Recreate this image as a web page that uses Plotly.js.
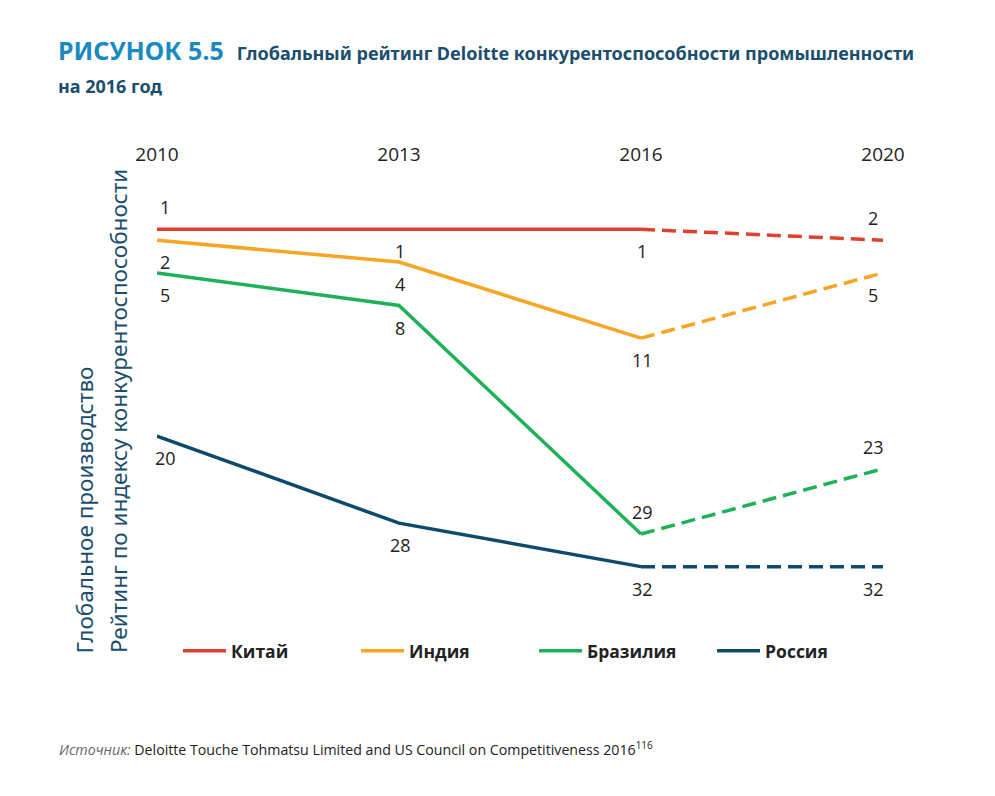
<!DOCTYPE html>
<html>
<head>
<meta charset="utf-8">
<script src="https://cdn.plot.ly/plotly-3.0.1.min.js"></script>
<style>html,body{margin:0;padding:0;background:#fff;}#chart{width:995px;height:796px;}</style>
</head>
<body>
<div id="chart"></div>
<script>
// ---- data ----
const years = ["2010", "2013", "2016", "2020"];
const countries = ["Китай", "Индия", "Бразилия", "Россия"];
const chinaRank = [1, 1, 1, 2];
const indiaRank = [2, 4, 11, 5];
const brazilRank = [5, 8, 29, 23];
const russiaRank = [20, 28, 32, 32];
// label placement: 1 = above the line, -1 = below
const chinaLabelSide = [1, -1, -1, 1];
const indiaLabelSide = [-1, -1, -1, -1];
const brazilLabelSide = [-1, -1, 1, 1];
const russiaLabelSide = [-1, -1, -1, -1];

const colors = ["#e0412d", "#f6a524", "#1db158", "#0d4a6b"];
const series = [chinaRank, indiaRank, brazilRank, russiaRank];
const sides = [chinaLabelSide, indiaLabelSide, brazilLabelSide, russiaLabelSide];

const traces = [];
const annotations = [];

series.forEach((vals, i) => {
  traces.push({
    type: "scatter", mode: "lines", name: countries[i],
    x: years.slice(0, 3), y: vals.slice(0, 3),
    line: {color: colors[i], width: 3.5}, cliponaxis: false,
    legendgroup: countries[i], hoverinfo: "skip"
  });
  traces.push({
    type: "scatter", mode: "lines", name: countries[i] + " (прогноз)",
    x: years.slice(2), y: vals.slice(2),
    line: {color: colors[i], width: 3.5, dash: "14px,7px"}, cliponaxis: false,
    legendgroup: countries[i], showlegend: false, hoverinfo: "skip"
  });
  vals.forEach((v, j) => {
    const xs = j === 0 ? 8 : (j === years.length - 1 ? -10 : 1);
    annotations.push({
      x: j, y: v, xref: "x", yref: "y", text: String(v),
      showarrow: false, xanchor: "center", yanchor: "middle",
      font: {family: "Open Sans, sans-serif", size: 18, color: "#222"},
      xshift: xs, yshift: sides[i][j] * 22
    });
  });
});

const axisTitleColor = "#1b4e6e";
annotations.push({
  xref: "paper", yref: "paper", x: -0.0992, y: -0.2428, xanchor: "center", yanchor: "bottom",
  textangle: -90, showarrow: false, text: "Глобальное производство",
  font: {family: "Noto Sans, sans-serif", size: 22.5, color: axisTitleColor}
});
annotations.push({
  xref: "paper", yref: "paper", x: -0.0537, y: -0.2428, xanchor: "center", yanchor: "bottom",
  textangle: -90, showarrow: false, text: "Рейтинг по индексу конкурентоспособности",
  font: {family: "Noto Sans, sans-serif", size: 22.5, color: axisTitleColor}
});
annotations.push({
  xref: "paper", yref: "paper", x: -0.1377, y: -0.5116, xanchor: "left", yanchor: "middle",
  showarrow: false, align: "left",
  text: "<i><span style=\"color:#666\">Источник:</span></i> Deloitte Touche Tohmatsu Limited and US Council on Competitiveness 2016<sup>116</sup>",
  font: {family: "Open Sans, sans-serif", size: 14.2, color: "#222"}
});

const layout = {
  width: 995, height: 796,
  paper_bgcolor: "#fff", plot_bgcolor: "#fff",
  margin: {l: 157, r: 112, t: 225, b: 225},
  title: {
    text: "<span style=\"color:#1a8abf\"><b>РИСУНОК 5.5</b></span>  <span style=\"font-size:18px\"><b>Глобальный рейтинг Deloitte конкурентоспособности промышленности</b></span><br><span style=\"font-size:18px\"><b>на 2016 год</b></span>",
    font: {family: "Noto Sans, sans-serif", size: 25, color: "#1b4e6e"},
    x: 58 / 995, xanchor: "left", xref: "container",
    y: 1 - 60 / 796, yanchor: "top", yref: "container"
  },
  xaxis: {
    type: "category", side: "top", range: [0, 3],
    showgrid: false, zeroline: false, showline: false,
    ticks: "outside", ticklen: 55, tickcolor: "rgba(0,0,0,0)",
    tickfont: {family: "Open Sans, sans-serif", size: 19, color: "#222"}
  },
  yaxis: {
    range: [32.4, 0.6], showgrid: false, zeroline: false, showline: false,
    showticklabels: false, ticks: ""
  },
  showlegend: true,
  legend: {
    orientation: "h", x: 0.029, xanchor: "left", y: -0.2312, yanchor: "middle",
    entrywidth: 120, entrywidthmode: "pixels", itemwidth: 43,
    font: {family: "Open Sans, sans-serif", size: 17.5, color: "#222", weight: "bold"},
    itemclick: false, itemdoubleclick: false
  },
  annotations: annotations,
  hovermode: false
};

Plotly.newPlot("chart", traces, layout, {displayModeBar: false, staticPlot: true});
</script>
</body>
</html>
